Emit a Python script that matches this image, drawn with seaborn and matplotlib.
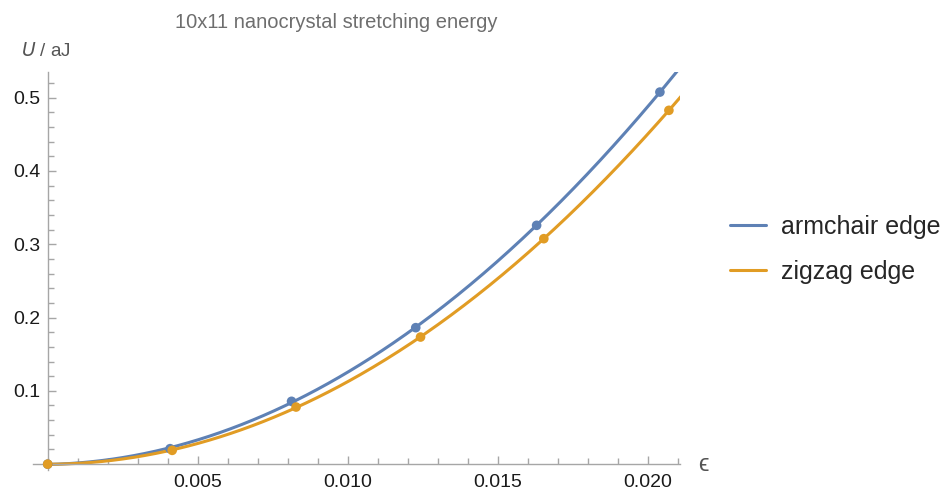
import matplotlib
matplotlib.use('Agg')
import matplotlib.pyplot as plt
from matplotlib.ticker import FixedLocator, MultipleLocator, FixedFormatter
import seaborn as sns
import numpy as np
import pandas as pd

# Data
armchair_strain = [0.0, 0.00408, 0.00813, 0.01227, 0.01630, 0.02041]
armchair_energy = [0.0, 0.0211, 0.0857, 0.1862, 0.3258, 0.5076]
zigzag_strain = [0.0, 0.00415, 0.00828, 0.01243, 0.01654, 0.02071]
zigzag_energy = [0.0, 0.0188, 0.0779, 0.1734, 0.3076, 0.4827]

series_names = ['armchair edge', 'zigzag edge']
colors = ['#5e81b5', '#e19c24']

x_ticks = [0.005, 0.010, 0.015, 0.020]
x_tick_labels = ['0.005', '0.010', '0.015', '0.020']
y_ticks = [0.1, 0.2, 0.3, 0.4, 0.5]
y_tick_labels = ['0.1', '0.2', '0.3', '0.4', '0.5']

points = pd.concat([
    pd.DataFrame({'strain': armchair_strain, 'energy': armchair_energy, 'edge': series_names[0]}),
    pd.DataFrame({'strain': zigzag_strain, 'energy': zigzag_energy, 'edge': series_names[1]}),
], ignore_index=True)

# Fitted curves through the points (cubic fit, as in the original plot)
curves = []
for name in series_names:
    sub = points[points['edge'] == name]
    coef = np.polyfit(sub['strain'], sub['energy'], 3)
    xs = np.linspace(0, 0.0215, 300)
    curves.append(pd.DataFrame({'strain': xs, 'energy': np.polyval(coef, xs), 'edge': name}))
curves = pd.concat(curves, ignore_index=True)

sns.set_theme(style='white')
plt.rcParams['font.family'] = ['Liberation Sans', 'DejaVu Sans']

fig = plt.figure(figsize=(9.47, 4.94), dpi=100)
ax = fig.add_axes([33 / 947, (494 - 470) / 494, 647 / 947, 398 / 494])

palette = dict(zip(series_names, colors))
sns.lineplot(data=curves, x='strain', y='energy', hue='edge', palette=palette,
             linewidth=2.2, ax=ax, legend=True)
sns.scatterplot(data=points, x='strain', y='energy', hue='edge', palette=palette,
                s=48, edgecolor='none', ax=ax, legend=False, zorder=3, clip_on=False)

ax.set_xlim(-0.00049, 0.02108)
ax.set_ylim(-0.008, 0.535)

# Axes crossing at the origin, Mathematica style
axis_grey = '#a6a6a6'
for side in ['top', 'right']:
    ax.spines[side].set_visible(False)
ax.spines['left'].set_position(('data', 0))
ax.spines['bottom'].set_position(('data', 0))
for side in ['left', 'bottom']:
    ax.spines[side].set_color(axis_grey)
    ax.spines[side].set_linewidth(1.0)

ax.xaxis.set_major_locator(FixedLocator(x_ticks))
ax.xaxis.set_major_formatter(FixedFormatter(x_tick_labels))
ax.xaxis.set_minor_locator(MultipleLocator(0.001))
ax.yaxis.set_major_locator(FixedLocator(y_ticks))
ax.yaxis.set_major_formatter(FixedFormatter(y_tick_labels))
ax.yaxis.set_minor_locator(MultipleLocator(0.02))
ax.tick_params(which='both', direction='in', color=axis_grey, width=1.0,
               labelsize=14, labelcolor='#1a1a1a', bottom=True, left=True)
ax.tick_params(which='major', length=6)
ax.tick_params(which='minor', length=4)
ax.tick_params(axis='x', pad=7)
ax.tick_params(axis='y', pad=5)

ax.set_xlabel('')
ax.set_ylabel('')
fig.text(46 / 947, 1 - 51 / 494, r'$\it{U}$ / aJ', ha='center', va='center',
         fontsize=13.5, color='#555555')
fig.text(703 / 947, 1 - 465 / 494, 'ϵ', ha='center', va='center',
         fontsize=17, color='#555555')
fig.text(336 / 947, 1 - 22 / 494, '10x11 nanocrystal stretching energy',
         ha='center', va='center', fontsize=14.5, color='#6e6e6e')

handles, labels = ax.get_legend_handles_labels()
ax.get_legend().remove()
fig.legend(handles, labels, loc='center left', bbox_to_anchor=(730 / 947, 1 - 249.5 / 494),
           frameon=False, fontsize=18, handlelength=1.45, handletextpad=0.6,
           labelspacing=0.85, borderpad=0, borderaxespad=0)

fig.savefig('out.png', dpi=100)
